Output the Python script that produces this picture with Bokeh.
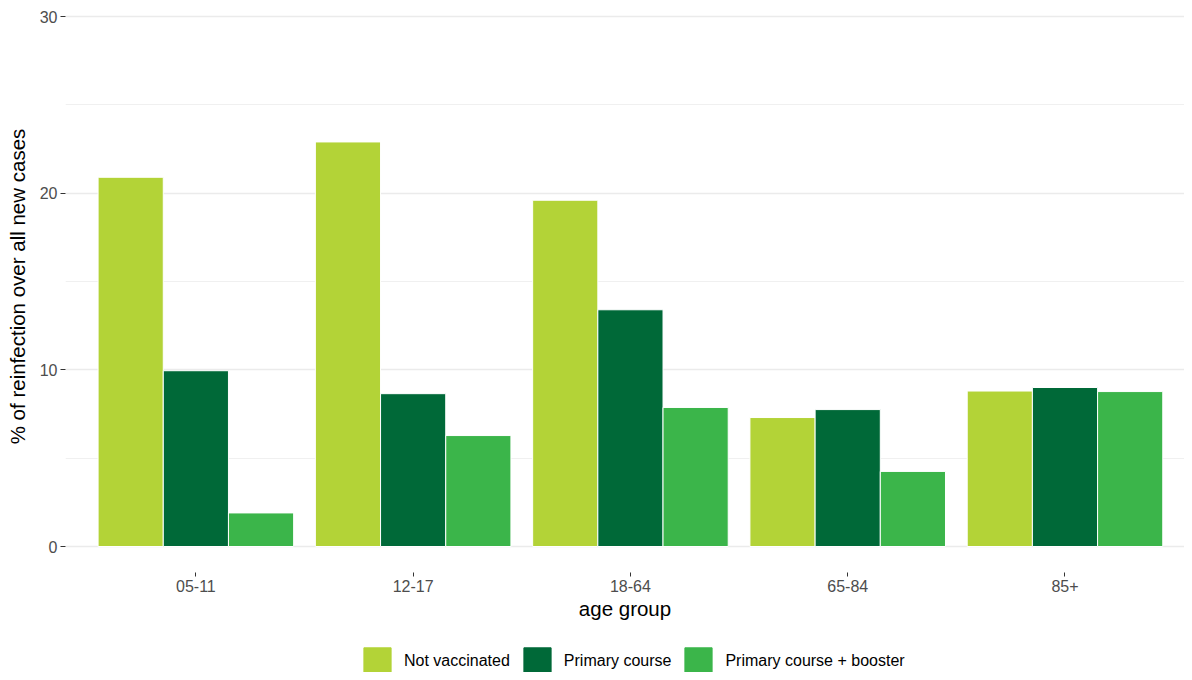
from bokeh.plotting import figure
from bokeh.layouts import column
from bokeh.models import (ColumnDataSource, Range1d, FixedTicker, SingleIntervalTicker,
                          Legend, LegendItem)
from bokeh.transform import dodge
from bokeh.embed import file_html
from bokeh.resources import INLINE

# ---- data ----
age_groups = ["05-11", "12-17", "18-64", "65-84", "85+"]
not_vaccinated = [20.9, 22.9, 19.6, 7.3, 8.8]
primary_course = [9.95, 8.65, 13.4, 7.75, 9.0]
primary_booster = [1.9, 6.28, 7.87, 4.25, 8.77]
series_names = ["Not vaccinated", "Primary course", "Primary course + booster"]
series_colors = ["#b3d337", "#006938", "#3bb54a"]

positions = list(range(1, len(age_groups) + 1))
source = ColumnDataSource(dict(pos=positions, age=age_groups, nv=not_vaccinated,
                               pc=primary_course, pcb=primary_booster))

FONT = "Liberation Sans"

# ---- main chart ----
p = figure(width=1184, height=626, output_backend="svg", toolbar_location=None,
           x_range=Range1d(0.4, 5.55), y_range=Range1d(-1.4717, 30.906),
           min_border_left=65, min_border_right=0, min_border_top=0,
           min_border_bottom=54)
p.outline_line_color = None
p.background_fill_color = "white"

for col, off, color in zip(["nv", "pc", "pcb"], [-0.3, 0.0, 0.3], series_colors):
    p.vbar(x=dodge("pos", off), top=col, width=0.3, bottom=0,
           source=source, fill_color=color, line_color="white", line_width=1)

p.xaxis.ticker = FixedTicker(ticks=positions)
p.xaxis.major_label_overrides = {pos: lab for pos, lab in zip(positions, age_groups)}
p.yaxis.ticker = SingleIntervalTicker(interval=10, num_minor_ticks=2)
for ax in (p.xaxis[0], p.yaxis[0]):
    ax.axis_line_color = None
    ax.major_tick_line_color = "#333333"
    ax.major_tick_in = 0
    ax.minor_tick_line_color = None
    ax.major_label_text_font = FONT
    ax.major_label_text_font_size = "16px"
    ax.major_label_text_color = "#4d4d4d"
    ax.axis_label_text_font = FONT
    ax.axis_label_text_font_size = "20.5px"
    ax.axis_label_text_font_style = "normal"
    ax.axis_label_text_color = "black"

p.xaxis.major_tick_out = 4
p.xaxis.major_label_standoff = 3
p.xaxis.axis_label = "age group"
p.xaxis.axis_label_standoff = 2

p.yaxis.major_tick_out = 5
p.yaxis.major_label_standoff = 3
p.yaxis.axis_label = "% of reinfection over all new cases"
p.yaxis.axis_label_standoff = 8

p.xgrid.grid_line_color = None
p.ygrid.grid_line_color = "#ebebeb"
p.ygrid.grid_line_width = 1.6
p.ygrid.minor_grid_line_color = "#f0f0f0"
p.ygrid.minor_grid_line_width = 1

# ---- legend strip (key swatches only; placeholder glyphs draw nothing) ----
lg = figure(width=1184, height=46, output_backend="svg", toolbar_location=None,
            x_range=Range1d(0, 1), y_range=Range1d(0, 1),
            x_axis_location=None, y_axis_location=None,
            min_border_left=0, min_border_right=0, min_border_top=0,
            min_border_bottom=0)
lg.outline_line_color = None
lg.grid.visible = False

items = []
for name, color in zip(series_names, series_colors):
    key_src = ColumnDataSource(dict(x=[float("nan")], top=[float("nan")]))
    r = lg.vbar(x="x", top="top", width=0.3, source=key_src,
                fill_color=color, line_color=color, line_width=1)
    items.append(LegendItem(label=name, renderers=[r], index=0))

legend = Legend(items=items, orientation="horizontal", location=(295, -5),
                glyph_width=34, glyph_height=33, label_standoff=10, spacing=10,
                padding=0, margin=0, border_line_color=None,
                background_fill_alpha=0,
                label_text_font=FONT, label_text_font_size="16px",
                label_text_color="black")
lg.add_layout(legend, "center")

layout = column(p, lg, spacing=0)
open("out.html", "w").write(file_html(layout, INLINE))
